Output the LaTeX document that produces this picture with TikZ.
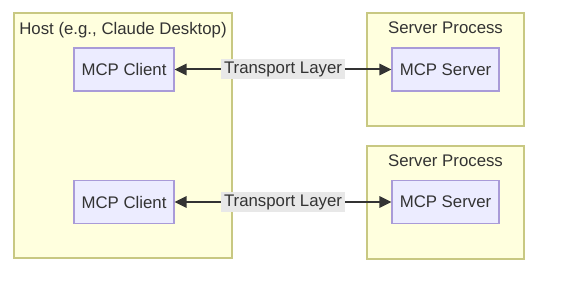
\documentclass[tikz,border=0pt]{standalone}
\usepackage{fontspec}
\setmainfont{Liberation Sans}
\usetikzlibrary{arrows.meta, positioning}
\definecolor{clusterfill}{HTML}{FFFFDE}
\definecolor{clusterline}{HTML}{C8C882}
\definecolor{nodefill}{HTML}{ECECFF}
\definecolor{nodeline}{HTML}{A99BD8}
\definecolor{labelfill}{HTML}{E8E8E8}
\definecolor{textgrey}{HTML}{333333}

\begin{document}
\begin{tikzpicture}[x=0.75pt, y=-0.75pt, font=\fontsize{12.6}{14}\selectfont, text=textgrey,
  cluster/.style={draw=clusterline, fill=clusterfill, line width=0.9pt, inner sep=0pt},
  proc/.style={draw=nodeline, fill=nodefill, line width=0.9pt, minimum height=32.25pt},
  link/.style={draw=textgrey, line width=1.5pt, {Triangle[length=9pt,width=8.5pt]}-{Triangle[length=9pt,width=8.5pt]}},
  tlabel/.style={fill=labelfill, inner xsep=2pt, inner ysep=0pt, minimum height=15pt}]
\def\clientWidth{75pt}
\def\serverWidth{80.25pt}

\useasboundingbox (0,0) rectangle (567,299);

%clusters
\node[cluster, minimum width=163.5pt, minimum height=183.75pt] (host) at (123,135.5) {};
\node[cluster, minimum width=117.75pt, minimum height=84.75pt] (procA) at (445.5,69.5) {};
\node[cluster, minimum width=117.75pt, minimum height=84.75pt] (procB) at (445.5,202.5) {};

%cluster titles
\node[inner sep=0pt, anchor=north, below=7pt of host.north] (hostTitle) {Host (e.g., Claude Desktop)};
\node[inner sep=0pt, anchor=north, below=7pt of procA.north] (procATitle) {Server Process};
\node[inner sep=0pt, anchor=north, below=7pt of procB.north] (procBTitle) {Server Process};

%clients and servers
\node[proc, minimum width=\clientWidth] (clientA) at (124,69.5) {MCP Client};
\node[proc, minimum width=\clientWidth] (clientB) at (124,202) {MCP Client};
\node[proc, minimum width=\serverWidth] (serverA) at (445.5,69.5) {MCP Server};
\node[proc, minimum width=\serverWidth] (serverB) at (445.5,202) {MCP Server};

%draw edges
\draw[link] (clientA) -- node[tlabel] {Transport Layer} (serverA);
\draw[link] (clientB) -- node[tlabel] {Transport Layer} (serverB);

\end{tikzpicture}
\end{document}
